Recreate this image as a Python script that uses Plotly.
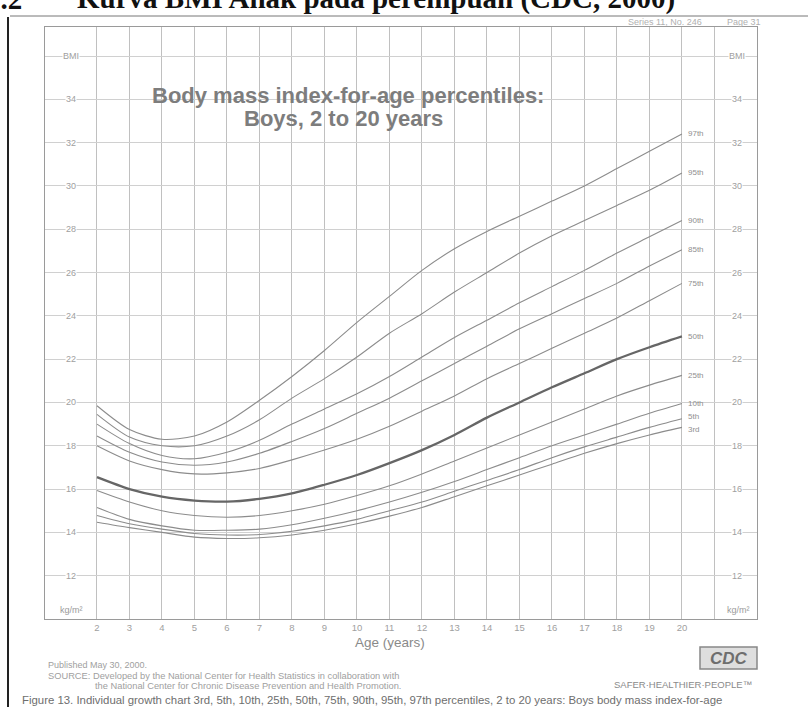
import plotly.graph_objects as go

ages = [2, 3, 4, 5, 6, 7, 8, 9, 10, 11, 12, 13, 14, 15, 16, 17, 18, 19, 20]
p97 = [19.85, 18.75, 18.3, 18.45, 19.1, 20.1, 21.2, 22.4, 23.7, 24.9, 26.1, 27.1, 27.9, 28.6, 29.3, 30.0, 30.8, 31.6, 32.4]
p95 = [19.45, 18.4, 18.0, 18.0, 18.45, 19.2, 20.2, 21.1, 22.1, 23.2, 24.1, 25.1, 26.0, 26.9, 27.7, 28.4, 29.1, 29.8, 30.6]
p90 = [19.0, 18.1, 17.55, 17.4, 17.7, 18.25, 19.0, 19.7, 20.4, 21.2, 22.1, 23.0, 23.8, 24.6, 25.35, 26.1, 26.9, 27.65, 28.4]
p85 = [18.45, 17.7, 17.25, 17.1, 17.25, 17.65, 18.2, 18.8, 19.5, 20.2, 21.0, 21.8, 22.6, 23.4, 24.1, 24.8, 25.5, 26.3, 27.05]
p75 = [18.0, 17.3, 16.9, 16.7, 16.75, 16.95, 17.35, 17.8, 18.3, 18.9, 19.6, 20.3, 21.1, 21.8, 22.5, 23.2, 23.9, 24.7, 25.5]
p50 = [16.55, 16.0, 15.65, 15.47, 15.42, 15.55, 15.8, 16.2, 16.65, 17.2, 17.8, 18.5, 19.3, 20.0, 20.7, 21.35, 22.0, 22.55, 23.05]
p25 = [15.93, 15.4, 15.0, 14.78, 14.7, 14.78, 15.0, 15.3, 15.7, 16.15, 16.7, 17.3, 17.9, 18.5, 19.1, 19.7, 20.3, 20.8, 21.25]
p10 = [15.15, 14.6, 14.3, 14.1, 14.1, 14.15, 14.35, 14.65, 15.0, 15.4, 15.85, 16.35, 16.9, 17.45, 18.0, 18.5, 19.0, 19.5, 19.95]
p5 = [14.78, 14.4, 14.15, 13.95, 13.88, 13.9, 14.05, 14.3, 14.6, 15.0, 15.4, 15.9, 16.4, 16.9, 17.45, 17.95, 18.4, 18.85, 19.25]
p3 = [14.47, 14.22, 14.0, 13.78, 13.72, 13.75, 13.88, 14.1, 14.4, 14.75, 15.15, 15.65, 16.15, 16.65, 17.15, 17.65, 18.1, 18.5, 18.85]

series = [("97th", p97), ("95th", p95), ("90th", p90), ("85th", p85), ("75th", p75),
          ("50th", p50), ("25th", p25), ("10th", p10), ("5th", p5), ("3rd", p3)]

age_ticks = list(range(2, 22))
age_ticktext = [str(a) if a <= 20 else "" for a in age_ticks]
bmi_ticks = list(range(12, 37, 2))
bmi_ticktext = ["BMI" if b == 36 else str(b) for b in bmi_ticks]

W, H = 808, 707
L, R, T, B = 45, 51, 27, 88
PW, PH = W - L - R, H - T - B


def px(x):
    return (x - L) / PW


def py(y):
    return (H - B - y) / PH


FONT = "Liberation Sans, Arial, sans-serif"
SERIF = "Liberation Serif, Times New Roman, serif"
fig = go.Figure()

for name, vals in series:
    is50 = name == "50th"
    fig.add_trace(go.Scatter(
        x=ages, y=vals, mode="lines", name=name,
        line=dict(color="#666666" if is50 else "#8c8c8c", width=2.3 if is50 else 1.1,
                  shape="spline", smoothing=0.8),
        showlegend=False, hoverinfo="skip"))

annotations = []
# percentile labels
label_shift = {"5th": 2.5, "3rd": -2.5}
for name, vals in series:
    annotations.append(dict(x=px(686), xref="paper", y=vals[-1], yref="y", text=name,
                            yshift=label_shift.get(name, 0),
                            xanchor="left", yanchor="middle", showarrow=False,
                            font=dict(family=FONT, size=8, color="#8f8f8f")))
# BMI labels both sides
for b, t in zip(bmi_ticks, bmi_ticktext):
    for xp in (71, 737):
        annotations.append(dict(x=px(xp), xref="paper", y=b, yref="y", text=t,
                                xanchor="center", yanchor="middle", showarrow=False,
                                bgcolor="white", borderpad=0,
                                font=dict(family=FONT, size=9, color="#a0a0a0")))
for xp in (71, 738):
    annotations.append(dict(x=px(xp), xref="paper", y=py(610), yref="paper", text="kg/m²",
                            xanchor="center", yanchor="middle", showarrow=False,
                            font=dict(family=FONT, size=9, color="#9a9a9a")))
# title
annotations.append(dict(x=px(348), xref="paper", y=py(95), yref="paper",
                        text="<b>Body mass index-for-age percentiles:</b>", showarrow=False,
                        xanchor="center", yanchor="middle",
                        font=dict(family=FONT, size=22, color="#7d7d7d")))
annotations.append(dict(x=px(343), xref="paper", y=py(118), yref="paper",
                        text="<b>Boys, 2 to 20 years</b>", showarrow=False,
                        xanchor="center", yanchor="middle",
                        font=dict(family=FONT, size=22, color="#7d7d7d")))
# x axis title
annotations.append(dict(x=px(390), xref="paper", y=py(642), yref="paper",
                        text="Age (years)", showarrow=False, xanchor="center", yanchor="middle",
                        font=dict(family=FONT, size=13.5, color="#8a8a8a")))
# header (cut off at the top, as in the scan)
annotations.append(dict(x=px(-16), xref="paper", y=py(-1), yref="paper",
                        text="<b>2.2</b>", showarrow=False, xanchor="left", yanchor="middle",
                        font=dict(family=SERIF, size=29, color="#111")))
annotations.append(dict(x=px(75), xref="paper", y=py(-1), yref="paper",
                        text="<b>Kurva BMI Anak pada perempuan (CDC, 2000)</b>", showarrow=False,
                        xanchor="left", yanchor="middle",
                        font=dict(family=SERIF, size=29, color="#111")))
annotations.append(dict(x=px(626), xref="paper", y=py(22), yref="paper",
                        text="Series 11, No. 246          Page 31", showarrow=False,
                        xanchor="left", yanchor="middle",
                        font=dict(family=FONT, size=9, color="#b0b0b0")))
# footer texts
foot = [
    (46, 665, "Published May 30, 2000.", "#a0a0a0", 9),
    (46, 676, "SOURCE: Developed by the National Center for Health Statistics in collaboration with", "#a0a0a0", 9.3),
    (93, 686, "the National Center for Chronic Disease Prevention and Health Promotion.", "#a0a0a0", 9.3),
    (20, 700, "Figure 13. Individual growth chart 3rd, 5th, 10th, 25th, 50th, 75th, 90th, 95th, 97th percentiles, 2 to 20 years: Boys body mass index-for-age", "#6e6e6e", 11.4),
]
for xp_, yp_, t, c, s in foot:
    annotations.append(dict(x=px(xp_), xref="paper", y=py(yp_), yref="paper", text=t,
                            showarrow=False, xanchor="left", yanchor="middle",
                            font=dict(family=FONT, size=s, color=c)))
annotations.append(dict(x=px(683), xref="paper", y=py(684), yref="paper",
                        text="SAFER·HEALTHIER·PEOPLE™", showarrow=False,
                        xanchor="center", yanchor="middle",
                        font=dict(family=FONT, size=9.5, color="#8a8a8a")))
annotations.append(dict(x=px(729), xref="paper", y=py(658), yref="paper",
                        text="<b><i>CDC</i></b>", showarrow=False,
                        xanchor="center", yanchor="middle",
                        font=dict(family=FONT, size=17, color="#6e6e6e")))

shapes = [
    dict(type="line", xref="paper", yref="paper", x0=px(10), x1=px(808), y0=py(16), y1=py(16),
         line=dict(color="#777", width=1)),
    dict(type="line", xref="paper", yref="paper", x0=px(8), x1=px(8), y0=py(17), y1=py(707),
         line=dict(color="#222", width=2)),
    dict(type="rect", xref="paper", yref="paper", x0=px(700), x1=px(757), y0=py(647), y1=py(669),
         line=dict(color="#888", width=1.5), fillcolor="#dedede", layer="below"),
]

fig.update_layout(
    width=W, height=H, margin=dict(l=L, r=R, t=T, b=B),
    paper_bgcolor="white", plot_bgcolor="white",
    xaxis=dict(range=[0.4, 22.31], tickmode="array", tickvals=age_ticks, ticktext=age_ticktext,
               showgrid=True, gridcolor="#c0c0c0", gridwidth=1, zeroline=False,
               showline=True, mirror=True, linecolor="#9a9a9a", linewidth=1, ticks="",
               tickfont=dict(family=FONT, size=9.5, color="#a0a0a0"), fixedrange=True),
    yaxis=dict(range=[10, 37.34], tickmode="array", tickvals=bmi_ticks, showticklabels=False,
               showgrid=True, gridcolor="#d0d0d0", gridwidth=1, zeroline=False,
               showline=True, mirror=True, linecolor="#9a9a9a", linewidth=1, ticks="",
               fixedrange=True),
    annotations=annotations, shapes=shapes,
)

fig.write_html("out.html")
